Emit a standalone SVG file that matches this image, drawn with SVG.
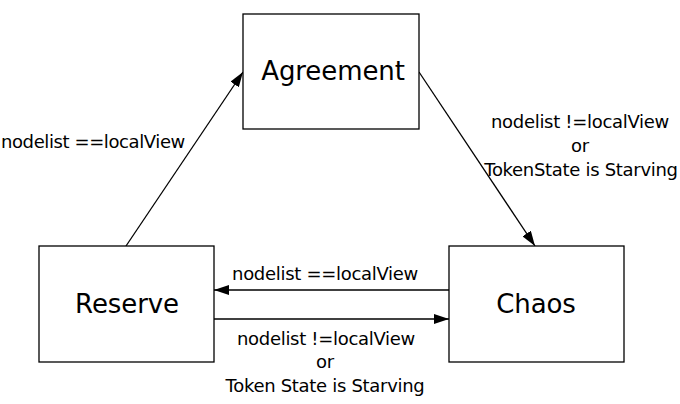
<svg xmlns="http://www.w3.org/2000/svg" width="680" height="404" viewBox="0 0 680 404">
<style>
.box{fill:#fff;stroke:#000;stroke-width:1.3}
.big{font-family:"DejaVu Sans",sans-serif;font-size:26px;text-anchor:middle;fill:#000;letter-spacing:-0.1px}
.lbl{font-family:"DejaVu Sans",sans-serif;font-size:18px;text-anchor:middle;fill:#000;letter-spacing:-0.3px}
.edge{stroke:#000;stroke-width:1.3;fill:none;marker-end:url(#arr)}
</style>
<defs>
<marker id="arr" markerWidth="15" markerHeight="10" refX="15" refY="5" orient="auto" markerUnits="userSpaceOnUse">
<path d="M0,0 L15,5 L0,10 Z" fill="#000"/>
</marker>
</defs>
<rect width="680" height="404" fill="#fff"/>
<g id="connectors">
<line class="edge" x1="126" y1="246" x2="243" y2="72"/>
<line class="edge" x1="419" y1="72" x2="535" y2="246"/>
<line class="edge" x1="449" y1="290" x2="214" y2="290"/>
<line class="edge" x1="214" y1="319" x2="449" y2="319"/>
<text class="lbl" x="1" y="148" style="text-anchor:start;letter-spacing:-0.4px">nodelist ==localView</text>
<text class="lbl" x="580" y="128">nodelist !=localView</text>
<text class="lbl" x="580" y="152">or</text>
<text class="lbl" x="581" y="176">TokenState is Starving</text>
<text class="lbl" x="325" y="280">nodelist ==localView</text>
<text class="lbl" x="326" y="345">nodelist !=localView</text>
<text class="lbl" x="325" y="368">or</text>
<text class="lbl" x="325" y="392">Token State is Starving</text>
</g>
<g id="agreement">
<rect class="box" x="243" y="14" width="176" height="115"/>
<text class="big" x="333" y="80">Agreement</text>
</g>
<g id="reserve">
<rect class="box" x="39" y="246" width="175" height="116"/>
<text class="big" x="127" y="313">Reserve</text>
</g>
<g id="chaos">
<rect class="box" x="449" y="246" width="175" height="116"/>
<text class="big" x="536" y="313">Chaos</text>
</g>
</svg>
